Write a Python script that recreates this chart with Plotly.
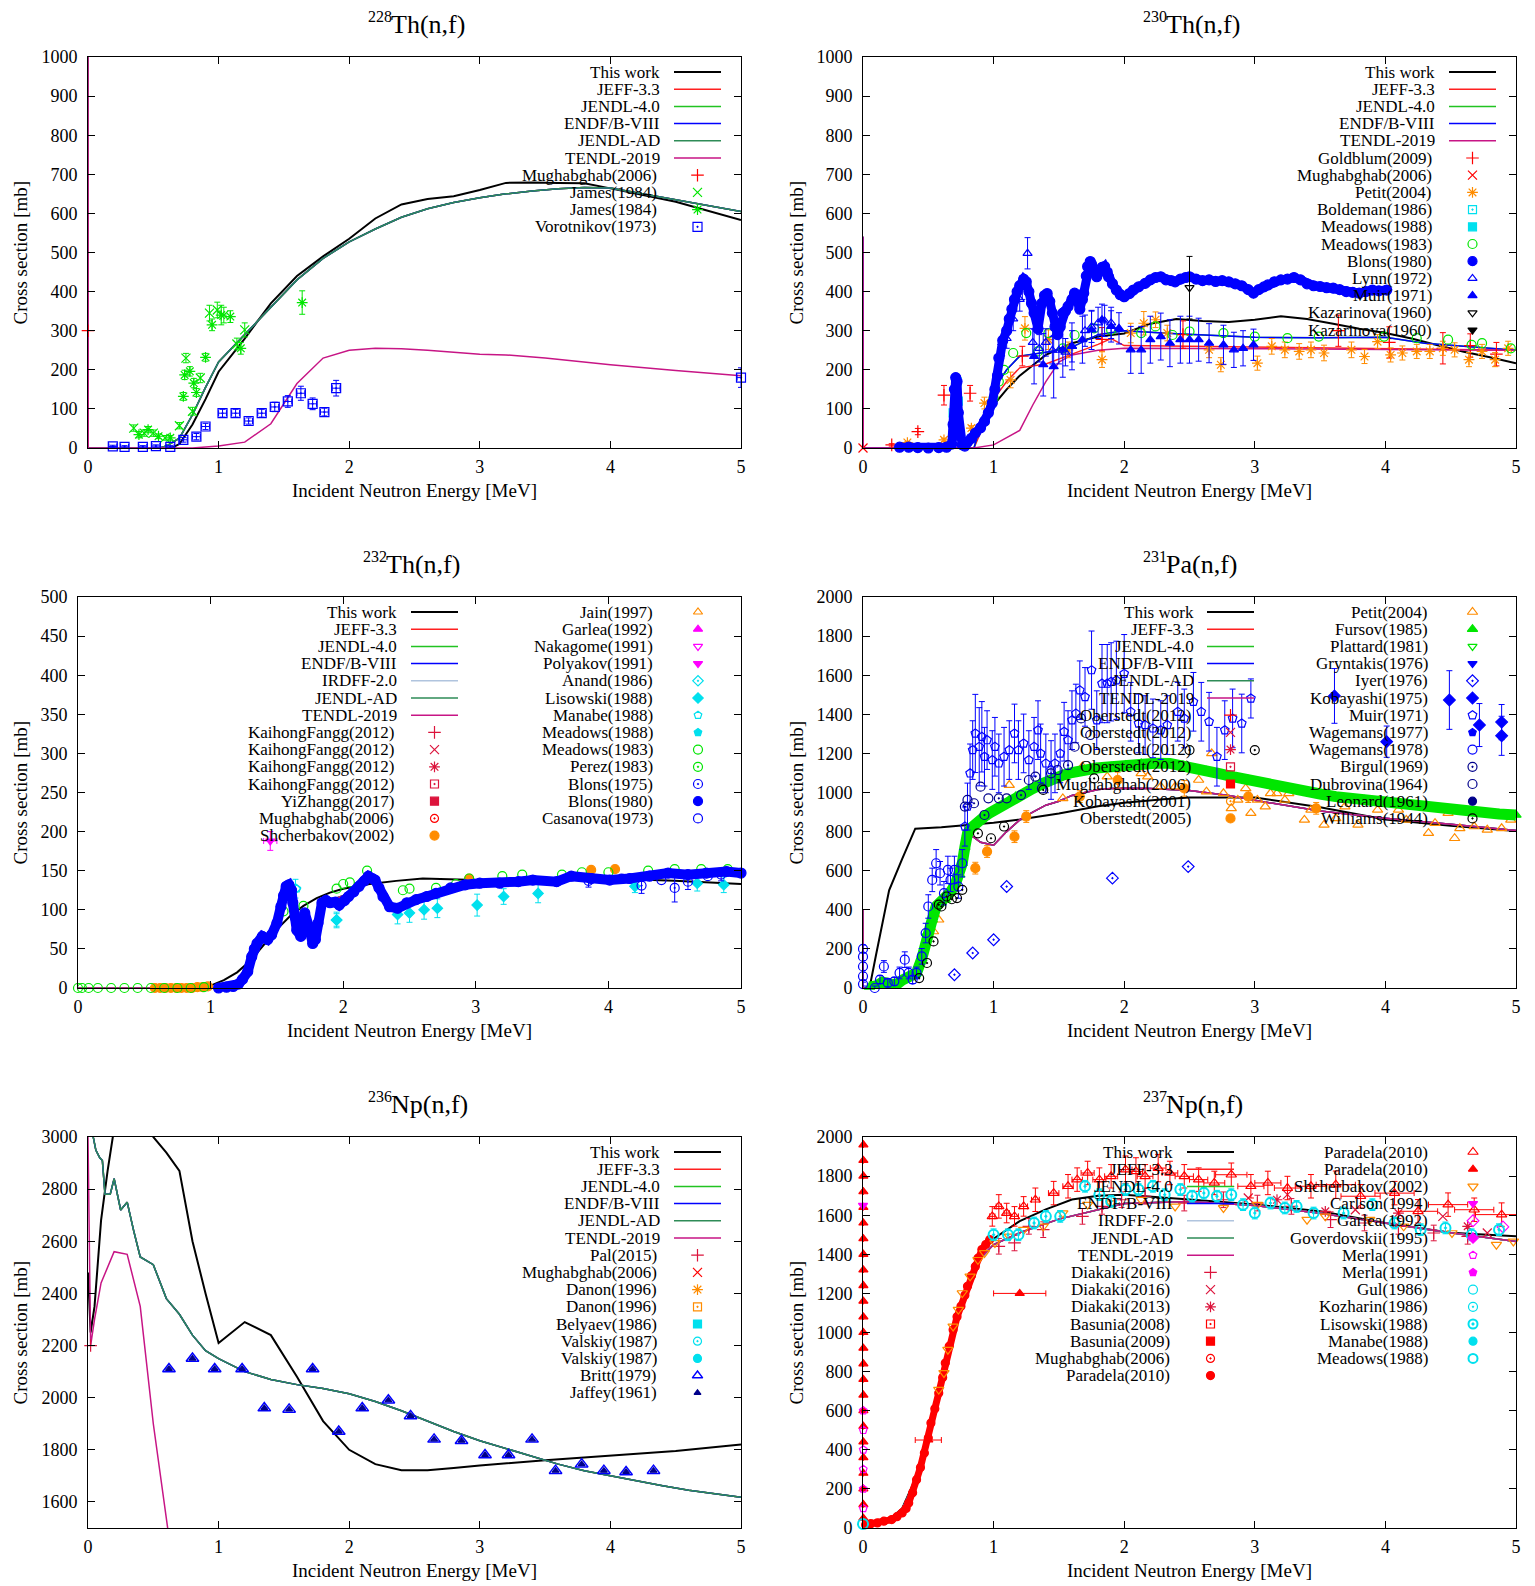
import plotly.graph_objects as go
from plotly.subplots import make_subplots

W, H = 1535, 1586
FONT = "Liberation Serif"

# ======================= DATA =======================
# ---- 228Th(n,f) ----
th228_this_e = [0.60, 0.65, 0.70, 0.80, 0.90, 1.00, 1.20, 1.40, 1.60, 1.80, 2.00, 2.20, 2.40, 2.60, 2.80, 3.00, 3.20, 3.40, 3.60, 3.80, 4.00, 4.50, 5.00]
th228_this_y = [0, 2, 10, 60, 125, 195, 280, 370, 440, 490, 535, 587, 623, 637, 644, 660, 678, 679, 678, 677, 664, 630, 583]
th228_eval_e = [0.0, 0.002, 0.55, 0.60, 0.70, 0.80, 0.90, 1.00, 1.20, 1.40, 1.60, 1.80, 2.00, 2.20, 2.40, 2.60, 2.80, 3.00, 3.20, 3.40, 3.60, 3.80, 4.00, 4.50, 5.00]
th228_eval_y = [1500, 0, 0, 5, 25, 85, 155, 220, 290, 360, 430, 485, 527, 560, 590, 612, 628, 640, 650, 657, 663, 666, 665, 635, 605]
th228_tendl_e = [0.0, 0.002, 0.80, 1.00, 1.20, 1.40, 1.60, 1.80, 2.00, 2.20, 2.40, 2.60, 3.00, 3.20, 3.50, 4.00, 4.50, 5.00]
th228_tendl_y = [1500, 0, 0, 5, 15, 62, 165, 230, 250, 255, 254, 250, 240, 238, 230, 213, 198, 185]
th228_mugh_e = [0.0]
th228_mugh_y = [300]
th228_james1_e = [0.35, 0.43, 0.50, 0.59, 0.70, 0.75, 0.80, 0.86, 0.93, 0.99, 1.04, 1.14, 1.20]
th228_james1_y = [51, 38, 38, 26, 57, 230, 94, 179, 345, 353, 340, 266, 302]
th228_james1_dy = [8, 8, 8, 6, 8, 12, 10, 12, 20, 20, 20, 15, 18]
th228_james2_e = [0.39, 0.46, 0.54, 0.63, 0.73, 0.74, 0.78, 0.81, 0.83, 0.90, 0.95, 1.02, 1.09, 1.17, 1.64]
th228_james2_y = [34, 47, 30, 26, 132, 187, 196, 166, 142, 232, 315, 340, 336, 255, 372]
th228_james2_dy = [8, 8, 6, 6, 10, 12, 12, 12, 10, 10, 15, 25, 15, 15, 30]
th228_voro_e = [0.19, 0.28, 0.42, 0.52, 0.63, 0.73, 0.83, 0.90, 1.03, 1.13, 1.23, 1.33, 1.43, 1.53, 1.63, 1.72, 1.81, 1.90, 5.00]
th228_voro_y = [4, 3, 3, 5, 3, 21, 29, 55, 89, 89, 69, 89, 105, 119, 140, 113, 92, 153, 180]
th228_voro_dy = [3, 3, 3, 3, 3, 6, 8, 8, 10, 10, 8, 10, 12, 15, 18, 15, 10, 20, 25]
th228_voro_dx = [0.03, 0.03, 0.03, 0.03, 0.03, 0.03, 0.03, 0.03, 0.03, 0.03, 0.03, 0.03, 0.03, 0.03, 0.03, 0.03, 0.03, 0.03, 0.03]

# ---- 230Th(n,f) ----
th230_this_e = [0.80, 0.90, 1.00, 1.10, 1.20, 1.40, 1.60, 1.80, 2.00, 2.20, 2.40, 2.60, 2.80, 3.00, 3.20, 3.40, 3.60, 3.80, 4.00, 4.20, 4.40, 4.60, 4.80, 5.00]
th230_this_y = [0, 40, 110, 150, 185, 238, 268, 285, 293, 318, 330, 325, 322, 328, 337, 330, 318, 305, 294, 280, 263, 246, 232, 217]
th230_jeff_e = [0.0, 0.002, 0.85, 0.90, 1.00, 1.10, 1.20, 1.30, 1.40, 1.60, 1.80, 1.90, 2.00, 2.50, 3.00, 3.50, 4.00, 4.50, 5.00]
th230_jeff_y = [540, 0, 0, 40, 125, 170, 205, 210, 215, 240, 265, 280, 262, 260, 258, 257, 255, 252, 250]
th230_endf_e = [0.0, 0.002, 0.85, 0.90, 1.00, 1.10, 1.20, 1.30, 1.40, 1.60, 1.80, 2.00, 2.40, 3.00, 3.50, 4.00, 4.30, 4.60, 5.00]
th230_endf_y = [540, 0, 0, 60, 150, 200, 235, 240, 245, 258, 290, 300, 292, 283, 282, 283, 268, 260, 250]
th230_tendl_e = [0.0, 0.002, 0.85, 1.00, 1.20, 1.30, 1.40, 1.50, 1.60, 1.80, 2.00, 2.50, 3.00, 4.00, 5.00]
th230_tendl_y = [540, 0, 0, 8, 45, 110, 170, 220, 238, 250, 255, 255, 254, 252, 250]
th230_gold_e = [0.22, 0.42, 0.62, 0.82, 1.22, 1.83, 2.45, 3.64, 4.03, 4.44, 4.65, 4.85]
th230_gold_y = [8, 42, 135, 140, 235, 278, 290, 300, 270, 255, 262, 240]
th230_gold_dy = [3, 8, 25, 20, 25, 30, 35, 40, 40, 40, 30, 30]
th230_mugh_e = [0.0]
th230_mugh_y = [0]
th230_petit_e = [0.34, 0.62, 0.83, 0.93, 1.13, 1.24, 1.42, 1.57, 1.83, 2.05, 2.15, 2.24, 2.33, 2.65, 2.74, 3.02, 3.13, 3.23, 3.34, 3.43, 3.53, 3.74, 3.84, 3.94, 4.04, 4.13, 4.24, 4.34, 4.44, 4.53, 4.64, 4.74, 4.84, 4.94]
th230_petit_y = [14, 21, 51, 115, 174, 306, 277, 251, 226, 294, 319, 328, 294, 251, 213, 217, 260, 251, 247, 251, 243, 251, 234, 272, 238, 243, 247, 247, 255, 251, 226, 247, 226, 255]
th230_petit_dy = [3, 4, 6, 15, 20, 30, 25, 20, 20, 25, 30, 20, 20, 20, 18, 18, 20, 20, 20, 20, 20, 20, 18, 18, 18, 18, 18, 18, 18, 18, 18, 18, 18, 18]
th230_bold_e = [0.69, 0.71, 0.73]
th230_bold_y = [90, 160, 120]
th230_mead88_e = [0.72]
th230_mead88_y = [170]
th230_mead83_e = [0.93, 1.00, 1.04, 1.08, 1.15, 1.25, 1.34, 1.42, 1.53, 1.62, 1.77, 1.90, 2.13, 2.24, 2.37, 2.50, 2.76, 3.00, 3.25, 3.49, 3.99, 4.24, 4.48, 4.66, 4.74, 4.96]
th230_mead83_y = [68, 128, 170, 200, 243, 294, 247, 294, 255, 289, 306, 302, 294, 311, 289, 298, 294, 285, 281, 285, 285, 281, 277, 264, 268, 255]
th230_blons_e = [0.28, 0.35, 0.42, 0.50, 0.58, 0.64, 0.68, 0.69, 0.70, 0.71,
                 0.72, 0.73, 0.74, 0.76, 0.78, 0.80, 0.83, 0.86, 0.90, 0.93,
                 0.96, 0.99, 1.01, 1.03, 1.04, 1.07, 1.10, 1.12, 1.14, 1.16,
                 1.18, 1.20, 1.23, 1.25, 1.27, 1.29, 1.31, 1.34, 1.37, 1.39,
                 1.41, 1.43, 1.45, 1.47, 1.49, 1.51, 1.53, 1.55, 1.57, 1.60,
                 1.62, 1.64, 1.66, 1.68, 1.69, 1.71, 1.72, 1.74, 1.75, 1.77,
                 1.79, 1.81, 1.83, 1.85, 1.87, 1.88, 1.91, 1.94, 1.97, 2.00,
                 2.04, 2.07, 2.11, 2.16, 2.20, 2.24, 2.28, 2.32, 2.36, 2.39,
                 2.43, 2.47, 2.50, 2.55, 2.60, 2.65, 2.70, 2.75, 2.80, 2.85,
                 2.90, 2.95, 2.99, 3.03, 3.07, 3.10, 3.15, 3.20, 3.25, 3.30,
                 3.35, 3.40, 3.45, 3.50, 3.55, 3.60, 3.65, 3.70, 3.75, 3.80,
                 3.85, 3.90, 3.95, 4.01]
th230_blons_y = [2, 2, 1, 0, 1, 2, 10, 60, 150, 180,
                 170, 90, 30, 8, 5, 15, 25, 38, 52, 68,
                 90, 115, 150, 185, 230, 275, 300, 330, 355, 380,
                 400, 415, 432, 425, 400, 370, 345, 305, 370, 390,
                 395, 375, 345, 310, 290, 310, 345, 350, 362, 380,
                 396, 375, 355, 380, 396, 440, 464, 477, 470, 450,
                 438, 450, 462, 464, 450, 438, 420, 404, 392, 387,
                 395, 404, 412, 421, 430, 436, 438, 430, 428, 425,
                 432, 436, 438, 432, 428, 430, 426, 428, 425, 420,
                 415, 405, 396, 405, 412, 417, 425, 430, 432, 436,
                 430, 420, 415, 413, 410, 409, 405, 400, 398, 396,
                 400, 404, 402, 404]
th230_lynn_e = [1.05, 1.10, 1.15, 1.20, 1.22, 1.26, 1.30, 1.35, 1.40, 1.45, 1.50, 1.55, 1.60, 1.70, 1.75, 1.80, 1.85, 1.90]
th230_lynn_y = [240, 280, 330, 380, 410, 498, 270, 255, 270, 250, 250, 245, 260, 300, 310, 320, 325, 320]
th230_lynn_dy = [25, 25, 30, 30, 30, 40, 35, 35, 35, 35, 35, 35, 40, 40, 40, 40, 40, 40]
th230_muir_e = [1.31, 1.38, 1.46, 1.53, 1.60, 1.68, 1.75, 1.83, 1.90, 1.96, 2.05, 2.13, 2.20, 2.28, 2.35, 2.43, 2.50, 2.57, 2.65, 2.76, 2.84, 2.91, 2.99]
th230_muir_y = [234, 213, 208, 251, 260, 277, 302, 328, 311, 306, 251, 251, 277, 285, 268, 277, 277, 277, 268, 264, 251, 255, 264]
th230_muir_dy = [70, 80, 80, 70, 60, 60, 50, 40, 40, 40, 60, 60, 60, 60, 60, 60, 60, 55, 50, 50, 45, 45, 40]
th230_kaz_e = [2.50]
th230_kaz_y = [410]
th230_kaz_dy = [80]

# ---- 232Th(n,f) ----
th232_this_e = [0.0, 0.90, 1.00, 1.10, 1.20, 1.30, 1.40, 1.50, 1.60, 1.70, 1.80, 1.90, 2.00, 2.20, 2.40, 2.60, 2.80, 3.00, 3.50, 4.00, 4.50, 5.00]
th232_this_y = [0, 0, 3, 10, 20, 35, 55, 75, 92, 105, 115, 122, 127, 133, 137, 140, 139, 138, 139, 140, 137, 133]
th232_eval_e = [0.0, 1.05, 1.15, 1.25, 1.30, 1.35, 1.40, 1.45, 1.50, 1.55, 1.60, 1.65, 1.70, 1.75, 1.80, 1.90, 2.00, 2.10, 2.20, 2.30, 2.40, 2.50, 2.70, 3.00, 3.50, 4.00, 4.50, 5.00]
th232_eval_y = [0, 0, 3, 15, 35, 55, 63, 62, 80, 110, 128, 95, 90, 65, 90, 112, 118, 130, 143, 115, 105, 112, 122, 133, 138, 143, 147, 150]
th232_blons_e = [1.06, 1.12, 1.17, 1.21, 1.24, 1.28, 1.31, 1.33, 1.35, 1.39,
                 1.43, 1.46, 1.50, 1.53, 1.55, 1.57, 1.59, 1.61, 1.62, 1.64,
                 1.65, 1.68, 1.71, 1.74, 1.77, 1.79, 1.81, 1.84, 1.87, 1.90,
                 1.94, 1.97, 2.01, 2.04, 2.08, 2.12, 2.16, 2.19, 2.22, 2.24,
                 2.27, 2.30, 2.35, 2.41, 2.48, 2.55, 2.63, 2.70, 2.81, 2.92,
                 3.03, 3.18, 3.32, 3.43, 3.61, 3.72, 3.87, 4.01, 4.16, 4.31,
                 4.45, 4.60, 4.74, 4.89, 5.00]
th232_blons_y = [0, 1, 2, 5, 11, 21, 40, 50, 57, 66,
                 62, 68, 83, 104, 118, 130, 132, 125, 109, 90,
                 74, 66, 96, 79, 57, 62, 83, 109, 112, 109,
                 110, 106, 112, 117, 123, 130, 137, 143, 140, 138,
                 128, 117, 104, 102, 109, 113, 117, 121, 128, 132,
                 134, 134, 136, 138, 136, 143, 140, 138, 140, 143,
                 147, 145, 147, 149, 147]
th232_mead83_e = [0.00, 0.03, 0.08, 0.15, 0.25, 0.35, 0.45, 0.55, 0.65, 0.75, 0.85, 0.95, 1.55, 1.70, 1.95, 2.00, 2.05, 2.18, 2.45, 2.50, 2.70, 2.85, 2.95, 3.20, 3.35, 3.65, 3.80, 4.00, 4.30, 4.50, 4.70, 4.90]
th232_mead83_y = [0, 0, 0, 0, 0, 0, 0, 0, 0, 0, 0, 1, 98, 105, 127, 133, 135, 150, 125, 127, 128, 133, 140, 143, 145, 145, 148, 148, 150, 152, 152, 152]
th232_shch_e = [0.58, 0.62, 0.66, 0.70, 0.74, 0.78, 0.82, 0.86, 0.90, 0.94, 0.98, 2.95, 3.87, 4.05]
th232_shch_y = [0, 0, 0, 0, 0, 0, 0, 0, 1, 1, 2, 140, 151, 152]
th232_poly_e = [1.45]
th232_poly_y = [188]
th232_poly_dy = [12]
th232_poly_dx = [0.05]
th232_lis_e = [1.95, 2.41, 2.50, 2.61, 2.71, 3.01, 3.21, 3.47, 4.20, 4.67, 4.87]
th232_lis_y = [87, 94, 96, 100, 102, 106, 117, 121, 130, 134, 132]
th232_lis_dy = [10, 12, 12, 12, 12, 14, 10, 12, 8, 10, 10]
th232_anand_e = [1.64, 1.95]
th232_anand_y = [127, 87]
th232_anand_dy = [12, 8]
th232_manabe_e = [1.65]
th232_manabe_y = [127]
th232_blons75_e = [3.85, 4.25, 4.50, 4.60, 4.85]
th232_blons75_y = [137, 131, 128, 136, 145]
th232_blons75_dy = [8, 10, 18, 10, 8]
th232_casa_e = [4.10, 4.40, 4.75]
th232_casa_y = [140, 138, 143]

# ---- 231Pa(n,f) ----
pa231_this_e = [0.0, 0.05, 0.10, 0.20, 0.30, 0.40, 0.60, 0.75, 0.90, 1.00, 1.20, 1.50, 1.80, 2.00, 2.30, 2.50, 3.00, 3.50, 4.00, 4.50, 5.00]
pa231_this_y = [0, 0, 170, 500, 660, 815, 822, 830, 838, 845, 862, 893, 930, 948, 965, 975, 975, 925, 862, 830, 803]
pa231_endf_e = [0.0, 0.002, 0.10, 0.20, 0.30, 0.40, 0.50, 0.60, 0.70, 0.75, 0.80, 0.85, 0.90, 1.00, 1.10, 1.20, 1.30, 1.40, 1.50, 1.60, 1.70, 1.80, 1.90, 2.00, 2.20, 2.50, 2.80, 3.00, 3.50, 4.00, 4.50, 5.00]
pa231_endf_y = [400, 0, 5, 20, 30, 70, 290, 470, 550, 640, 790, 770, 745, 730, 800, 860, 900, 935, 955, 985, 1000, 1015, 1020, 1022, 1020, 1010, 985, 960, 905, 868, 838, 806]
pa231_jendl4_e = [0.0, 0.002, 0.30, 0.40, 0.50, 0.60, 0.70, 0.80, 0.90, 1.00, 1.20, 1.50, 2.00, 2.30, 2.60, 3.00, 3.50, 4.00, 4.50, 5.00]
pa231_jendl4_y = [400, 0, 30, 70, 290, 460, 540, 790, 870, 910, 995, 1085, 1145, 1150, 1120, 1060, 1000, 950, 910, 885]
pa231_fursov_e = [0.05, 0.10, 0.15, 0.20, 0.25, 0.30, 0.35, 0.41, 0.45, 0.49,
                  0.53, 0.56, 0.60, 0.63, 0.67, 0.71, 0.74, 0.76, 0.78, 0.80,
                  0.83, 0.86, 0.90, 0.93, 0.97, 1.01, 1.06, 1.12, 1.17, 1.23,
                  1.30, 1.38, 1.45, 1.53, 1.60, 1.68, 1.79, 1.90, 2.01, 2.13,
                  2.24, 2.35, 2.45, 2.54, 2.63, 2.72, 2.84, 2.95, 3.06, 3.17,
                  3.28, 3.40, 3.51, 3.62, 3.73, 3.84, 3.96, 4.07, 4.18, 4.29,
                  4.40, 4.51, 4.62, 4.74, 4.87, 5.00]
pa231_fursov_y = [5, 10, 30, 20, 15, 40, 60, 77, 150, 281,
                  350, 417, 440, 451, 490, 536, 580, 638, 720, 791,
                  820, 843, 860, 877, 895, 911, 935, 962, 980, 996,
                  1020, 1047, 1070, 1089, 1102, 1115, 1125, 1132, 1140, 1149,
                  1150, 1149, 1138, 1123, 1110, 1098, 1080, 1064, 1047, 1030,
                  1017, 1004, 991, 979, 970, 962, 953, 945, 936, 928,
                  920, 911, 902, 894, 890, 885]
pa231_petit_e = [0.54, 0.58, 1.12, 1.53, 1.68, 1.87, 2.13, 2.18, 2.28, 2.39,
                 2.57, 2.63, 2.67, 2.76, 2.82, 2.87, 2.93, 2.97, 3.02, 3.08,
                 3.12, 3.17, 3.23, 3.26, 3.38, 3.43, 3.53, 3.62, 3.69, 3.79,
                 3.94, 4.05, 4.10, 4.16, 4.33, 4.38, 4.48, 4.53, 4.57, 4.68,
                 4.78, 4.89, 4.96]
pa231_petit_y = [289, 349, 1038, 970, 1132, 1081, 1098, 1081, 1030, 1030,
                 1064, 1004, 1200, 996, 919, 962, 1021, 894, 962, 928,
                 996, 996, 962, 996, 860, 911, 834, 868, 928, 834,
                 911, 945, 911, 860, 792, 843, 894, 766, 817, 826,
                 809, 817, 860]
pa231_iyer_e = [0.70, 0.84, 1.00, 1.10, 1.91, 2.49]
pa231_iyer_y = [68, 179, 247, 519, 562, 621]
pa231_koba75_e = [3.61, 4.01, 4.49, 4.72, 4.89, 4.89]
pa231_koba75_y = [1494, 1260, 1473, 1345, 1360, 1290]
pa231_koba75_dy = [140, 80, 150, 110, 90, 100]
pa231_wag78_e = [0.0, 0.0, 0.0, 0.0, 0.0, 0.09, 0.13, 0.16, 0.19, 0.24, 0.28, 0.32, 0.35, 0.38, 0.41, 0.45, 0.48, 0.50, 0.53, 0.56, 0.59, 0.62, 0.65, 0.67, 0.70, 0.73, 0.76]
pa231_wag78_y = [20, 60, 110, 160, 200, 0, 43, 110, 26, 34, 77, 145, 77, 43, 77, 162, 281, 417, 553, 638, 587, 485, 604, 553, 604, 519, 638]
pa231_wag78_dy = [10, 20, 20, 20, 20, 10, 20, 30, 20, 20, 30, 40, 30, 20, 30, 40, 50, 60, 60, 70, 60, 60, 70, 60, 70, 60, 70]
pa231_muir_e = [0.78, 0.80, 0.82, 0.84, 0.86, 0.89, 0.91, 0.93, 0.95, 0.99,
                1.01, 1.04, 1.08, 1.12, 1.16, 1.19, 1.23, 1.27, 1.31, 1.34,
                1.36, 1.40, 1.44, 1.47, 1.51, 1.54, 1.57, 1.60, 1.63, 1.66,
                1.70, 1.75, 1.79, 1.83, 1.87, 1.90, 1.94, 2.00, 2.05, 2.11,
                2.16, 2.22, 2.28, 2.33, 2.41, 2.46, 2.53, 2.59, 2.65, 2.71,
                2.77, 2.83, 2.90, 2.97]
pa231_muir_y = [826, 928, 1098, 1217, 1302, 1234, 1285, 1183, 1268, 1166,
                1234, 1149, 1183, 1217, 1302, 1217, 1251, 1166, 1234, 1319,
                1200, 1149, 1115, 1149, 1200, 1311, 1268, 1370, 1404, 1523,
                1489, 1626, 1370, 1557, 1557, 1566, 1574, 1608, 1413, 1353,
                1345, 1328, 1319, 1345, 1413, 1379, 1464, 1413, 1362, 1183,
                1319, 1379, 1353, 1481]
pa231_muir_dy = [100, 120, 150, 150, 200, 200, 180, 150, 150, 150,
                 150, 150, 150, 150, 150, 150, 150, 150, 150, 150,
                 150, 150, 150, 150, 150, 150, 150, 150, 150, 150,
                 150, 200, 150, 200, 200, 200, 200, 200, 150, 150,
                 150, 150, 150, 150, 150, 150, 150, 150, 150, 150,
                 150, 150, 150, 100]
pa231_birgul_e = [0.78, 0.85, 0.93, 1.04, 1.21, 1.32, 1.44, 1.57, 1.67]
pa231_birgul_y = [928, 945, 885, 970, 987, 1081, 1098, 1140, 1379]
pa231_dubr_e = [0.80, 0.90, 0.96, 1.10, 1.27, 1.37, 1.49, 1.62, 1.74]
pa231_dubr_y = [962, 1030, 970, 970, 1064, 1021, 1115, 1234, 1294]
pa231_will_e = [0.43, 0.49, 0.54, 0.58, 0.60, 0.64, 0.68, 0.72, 0.76, 0.88, 0.98, 1.08, 1.38, 1.77, 2.50, 3.00]
pa231_will_y = [51, 128, 238, 426, 417, 468, 454, 460, 502, 791, 766, 826, 1013, 1072, 1217, 1217]
pa231_ober05_e = [0.86, 0.95, 1.16, 1.25, 1.66, 1.95, 2.46, 2.95, 3.47]
pa231_ober05_y = [613, 698, 774, 877, 979, 1064, 1021, 979, 919]
pa231_ober05_dy = [30, 30, 30, 30, 30, 40, 40, 30, 30]

# ---- 236Np(n,f) ----
np236_this_e = [0.0, 0.02, 0.05, 0.10, 0.15, 0.19, 0.30, 0.45, 0.50, 0.60, 0.70, 0.80, 0.90, 1.00, 1.20, 1.40, 1.60, 1.80, 2.00, 2.20, 2.40, 2.60, 2.80, 3.00, 3.50, 4.00, 4.50, 5.00]
np236_this_y = [2480, 2250, 2350, 2680, 2870, 3000, 3150, 3080, 3000, 2940, 2870, 2600, 2400, 2210, 2290, 2240, 2080, 1910, 1800, 1745, 1722, 1722, 1730, 1740, 1760, 1777, 1795, 1820]
np236_eval_e = [0.0, 0.04, 0.06, 0.09, 0.11, 0.13, 0.17, 0.20, 0.25, 0.30, 0.35, 0.40, 0.50, 0.60, 0.70, 0.80, 0.90, 1.00, 1.20, 1.40, 1.60, 1.80, 2.00, 2.20, 2.40, 2.60, 2.80, 3.00, 3.20, 3.40, 3.60, 3.80, 4.00, 4.20, 4.40, 4.60, 4.80, 5.00]
np236_eval_y = [3200, 3000, 2950, 2920, 2910, 2780, 2780, 2840, 2720, 2750, 2640, 2540, 2510, 2380, 2320, 2240, 2180, 2150, 2100, 2070, 2050, 2035, 2015, 1985, 1950, 1910, 1870, 1835, 1805, 1775, 1745, 1720, 1700, 1680, 1662, 1645, 1632, 1618]
np236_tendl_e = [0.0, 0.02, 0.05, 0.10, 0.20, 0.30, 0.40, 0.50, 0.61]
np236_tendl_y = [3000, 2200, 2300, 2440, 2560, 2550, 2350, 1900, 1500]
np236_pal_e = [0.02]
np236_pal_y = [2200]
np236_britt_e = [0.62, 0.80, 0.97, 1.18, 1.35, 1.54, 1.72, 1.92, 2.10, 2.30, 2.47, 2.65, 2.86, 3.04, 3.22, 3.40, 3.58, 3.78, 3.95, 4.12, 4.33]
np236_britt_y = [2110, 2150, 2110, 2110, 1960, 1955, 2110, 1870, 1960, 1990, 1930, 1840, 1835, 1780, 1780, 1840, 1720, 1745, 1720, 1715, 1720]

# ---- 237Np(n,f) ----
np237_this_e = [0.002, 0.10, 0.20, 0.30, 0.40, 0.50, 0.60, 0.70, 0.80, 0.90, 1.00, 1.20, 1.40, 1.60, 1.80, 2.00, 2.50, 3.00, 3.50, 4.00, 4.50, 5.00]
np237_this_y = [20, 25, 45, 100, 250, 480, 760, 1030, 1250, 1400, 1480, 1570, 1630, 1680, 1700, 1705, 1680, 1655, 1620, 1560, 1510, 1492]
np237_eval_e = [0.002, 0.10, 0.20, 0.30, 0.40, 0.50, 0.60, 0.70, 0.80, 0.90, 1.00, 1.20, 1.50, 2.00, 2.50, 3.00, 3.50, 4.00, 4.50, 5.00]
np237_eval_y = [20, 25, 45, 95, 240, 470, 740, 1010, 1230, 1380, 1450, 1510, 1580, 1660, 1670, 1650, 1610, 1560, 1510, 1465]
np237_diak16a_e = [1.04, 1.16, 1.27, 1.38, 1.68, 1.83, 1.98, 2.16, 2.46, 2.76, 3.02, 3.28, 3.58, 3.84, 4.10, 4.37, 4.63]
np237_diak16a_y = [1441, 1458, 1543, 1526, 1594, 1645, 1679, 1697, 1662, 1679, 1662, 1645, 1577, 1560, 1543, 1509, 1492]
np237_diak16a_dy = [40, 40, 40, 40, 40, 40, 40, 40, 40, 40, 40, 40, 40, 40, 40, 40, 40]
np237_diak16b_e = [2.95, 3.25, 3.77, 4.44, 4.78]
np237_diak16b_y = [1688, 1705, 1628, 1594, 1509]
np237_diak13_e = [3.17, 3.54, 4.10, 4.63]
np237_diak13_y = [1679, 1620, 1611, 1543]
np237_parc_e = [0.02, 0.06, 0.11, 0.16, 0.22, 0.26, 0.30, 0.33, 0.35, 0.38, 0.41, 0.44, 0.47, 0.50, 0.52, 0.55, 0.58, 0.61, 0.63, 0.66, 0.69, 0.72, 0.75, 0.78, 0.80, 0.83, 0.86, 0.88, 0.91, 0.94, 0.97]
np237_parc_y = [17, 22, 26, 35, 43, 58, 77, 100, 128, 180, 247, 310, 384, 460, 537, 610, 690, 770, 844, 930, 1014, 1080, 1134, 1190, 1236, 1290, 1338, 1380, 1424, 1450, 1475]
np237_parto_e = [0.99, 1.04, 1.10, 1.16, 1.23, 1.32, 1.46, 1.57, 1.64, 1.72, 1.81, 1.90, 2.01, 2.09, 2.16, 2.26, 2.35, 2.46, 2.57, 2.69, 2.82, 2.97, 3.10, 3.25, 3.43, 3.62, 3.81, 4.07, 4.25, 4.48, 4.68, 4.89]
np237_parto_y = [1594, 1645, 1611, 1594, 1645, 1679, 1713, 1748, 1782, 1816, 1782, 1799, 1833, 1824, 1799, 1841, 1816, 1799, 1782, 1765, 1807, 1748, 1765, 1739, 1748, 1756, 1697, 1713, 1620, 1654, 1628, 1603]
np237_parto_dy = [50, 60, 50, 50, 50, 60, 60, 60, 60, 60, 60, 60, 70, 70, 60, 70, 60, 60, 60, 60, 60, 60, 60, 60, 60, 70, 60, 60, 60, 60, 60, 60]
np237_parto_dx = [0.02, 0.02, 0.02, 0.03, 0.03, 0.03, 0.04, 0.04, 0.04, 0.05, 0.05, 0.05, 0.05, 0.05, 0.06, 0.06, 0.06, 0.07, 0.07, 0.08, 0.12, 0.10, 0.10, 0.10, 0.12, 0.15, 0.15, 0.15, 0.15, 0.15, 0.15, 0.20]
np237_partf_e = [0.003, 0.003, 0.003, 0.003, 0.003, 0.003, 0.003, 0.003, 0.003, 0.003, 0.003, 0.003, 0.003, 0.003, 0.003, 0.003, 0.003, 0.003, 0.003, 0.003, 0.003, 0.003, 0.003, 0.003, 0.003, 0.50, 1.20]
np237_partf_y = [50, 120, 200, 280, 360, 440, 520, 600, 680, 760, 840, 920, 1000, 1080, 1160, 1240, 1320, 1400, 1480, 1560, 1640, 1720, 1800, 1880, 1960, 450, 1200]
np237_partf_dx = [0, 0, 0, 0, 0, 0, 0, 0, 0, 0, 0, 0, 0, 0, 0, 0, 0, 0, 0, 0, 0, 0, 0, 0, 0, 0.10, 0.20]
np237_shch_e = [0.58, 0.62, 0.65, 0.69, 0.73, 0.76, 0.82, 0.88, 0.93, 1.01, 1.12, 1.23, 1.38, 1.53, 1.72, 1.90, 2.13, 2.39, 2.76, 3.02, 3.40, 3.54, 3.88, 4.14, 4.51, 4.85, 4.98]
np237_shch_y = [708, 793, 912, 1031, 1117, 1202, 1287, 1372, 1407, 1458, 1492, 1526, 1543, 1611, 1654, 1662, 1679, 1645, 1637, 1654, 1577, 1594, 1577, 1543, 1509, 1449, 1466]
np237_carl_e = [0.0]
np237_carl_y = [1650]
np237_garlea_e = [4.90]
np237_garlea_y = [1540]
np237_merla_e = [0.002, 0.002, 0.002, 0.002, 0.002, 0.002]
np237_merla_y = [100, 200, 300, 400, 500, 600]
np237_mead88_e = [0.0]
np237_mead88_y = [20]
np237_lis_e = [1.00, 1.11, 1.19, 1.31, 1.40, 1.51, 1.70, 1.81, 1.90, 2.01, 2.11, 2.22, 2.31, 2.43, 2.52, 2.61, 2.71, 2.82, 2.91, 3.00, 3.12, 3.23, 3.32, 3.45, 3.68, 3.90, 4.07, 4.27, 4.46, 4.66, 4.87]
np237_lis_y = [1500, 1500, 1500, 1560, 1594, 1594, 1748, 1705, 1671, 1731, 1731, 1748, 1705, 1731, 1697, 1713, 1697, 1705, 1654, 1611, 1662, 1637, 1645, 1611, 1611, 1654, 1560, 1526, 1535, 1500, 1526]
np237_lis_dy = [30, 30, 30, 30, 30, 30, 30, 30, 30, 30, 30, 30, 30, 30, 30, 30, 30, 30, 30, 30, 30, 30, 30, 30, 30, 30, 30, 30, 30, 30, 30]

# ======================= STYLE / TABLES =======================
C_THIS, C_JEFF, C_J4, C_ENDF = "#000000", "#ff2020", "#22c322", "#0000ff"
C_IRDFF, C_JAD, C_TENDL = "#b0c4de", "#2e8b57", "#c71585"
RED, GREEN, BLUE, ORANGE = "#ff0000", "#00e600", "#0000ff", "#ff8c00"
CYAN, MAGENTA, NAVY, CRIMSON, BLACK = "#00e0ee", "#ff00ff", "#00008b", "#dc143c", "#000000"

SERIES = []


def chk(label, *arrs):
    n = {len(a) for a in arrs if a is not None}
    if len(n) > 1:
        raise ValueError("length mismatch in " + label + ": " + str([len(a) for a in arrs if a is not None]))


def line(panel, col, label, x, y, color, width=1.5):
    chk(label, x, y)
    SERIES.append(dict(kind="line", panel=panel, col=col, label=label, x=x, y=y, color=color, width=width))


def pts(panel, col, label, x, y, color, symbol, ey=None, ex=None, size=8, band=0, lw=1.2):
    chk(label, x, y, ey, ex)
    SERIES.append(dict(kind="pts", panel=panel, col=col, label=label, x=x, y=y, color=color,
                       symbol=symbol, ey=ey, ex=ex, size=size, band=band, lw=lw))


# panel 1
line(1, 0, "This work", th228_this_e, th228_this_y, C_THIS, 2)
line(1, 0, "JEFF-3.3", th228_eval_e, th228_eval_y, C_JEFF)
line(1, 0, "JENDL-4.0", th228_eval_e, th228_eval_y, C_J4)
line(1, 0, "ENDF/B-VIII", th228_eval_e, th228_eval_y, C_ENDF)
line(1, 0, "JENDL-AD", th228_eval_e, th228_eval_y, C_JAD)
line(1, 0, "TENDL-2019", th228_tendl_e, th228_tendl_y, C_TENDL)
pts(1, 0, "Mughabghab(2006)", th228_mugh_e, th228_mugh_y, RED, "cross-thin-open", size=9)
pts(1, 0, "James(1984)", th228_james1_e, th228_james1_y, GREEN, "x-thin-open", ey=th228_james1_dy, size=9)
pts(1, 0, "James(1984)", th228_james2_e, th228_james2_y, GREEN, "asterisk-open", ey=th228_james2_dy, size=9)
pts(1, 0, "Vorotnikov(1973)", th228_voro_e, th228_voro_y, BLUE, "square-open-dot", ey=th228_voro_dy, ex=th228_voro_dx, size=9)

# panel 2
line(2, 0, "This work", th230_this_e, th230_this_y, C_THIS, 2)
line(2, 0, "JEFF-3.3", th230_jeff_e, th230_jeff_y, C_JEFF)
line(2, 0, "JENDL-4.0", th230_endf_e, th230_endf_y, C_J4)
line(2, 0, "ENDF/B-VIII", th230_endf_e, th230_endf_y, C_ENDF)
line(2, 0, "TENDL-2019", th230_tendl_e, th230_tendl_y, C_TENDL)
pts(2, 0, "Goldblum(2009)", th230_gold_e, th230_gold_y, RED, "cross-thin-open", ey=th230_gold_dy, size=9)
pts(2, 0, "Mughabghab(2006)", th230_mugh_e, th230_mugh_y, RED, "x-thin-open", size=9)
pts(2, 0, "Petit(2004)", th230_petit_e, th230_petit_y, ORANGE, "asterisk-open", ey=th230_petit_dy, size=9)
pts(2, 0, "Boldeman(1986)", th230_bold_e, th230_bold_y, CYAN, "square-open-dot")
pts(2, 0, "Meadows(1988)", th230_mead88_e, th230_mead88_y, CYAN, "square")
pts(2, 0, "Meadows(1983)", th230_mead83_e, th230_mead83_y, GREEN, "circle-open", size=9)
pts(2, 0, "Blons(1980)", th230_blons_e, th230_blons_y, BLUE, "circle", size=10, band=9)
pts(2, 0, "Lynn(1972)", th230_lynn_e, th230_lynn_y, BLUE, "triangle-up-open", ey=th230_lynn_dy)
pts(2, 0, "Muir(1971)", th230_muir_e, th230_muir_y, BLUE, "triangle-up", ey=th230_muir_dy)
pts(2, 0, "Kazarinova(1960)", th230_kaz_e, th230_kaz_y, BLACK, "triangle-down-open", ey=th230_kaz_dy)
pts(2, 0, "Kazarinova(1960)", [], [], BLACK, "triangle-down")

# panel 3
line(3, 0, "This work", th232_this_e, th232_this_y, C_THIS, 2)
line(3, 0, "JEFF-3.3", th232_eval_e, th232_eval_y, C_JEFF)
line(3, 0, "JENDL-4.0", th232_eval_e, th232_eval_y, C_J4)
line(3, 0, "ENDF/B-VIII", th232_eval_e, th232_eval_y, C_ENDF)
line(3, 0, "IRDFF-2.0", th232_eval_e, th232_eval_y, C_IRDFF)
line(3, 0, "JENDL-AD", th232_eval_e, th232_eval_y, C_JAD)
line(3, 0, "TENDL-2019", th232_eval_e, th232_eval_y, C_TENDL)
pts(3, 0, "KaihongFangg(2012)", [], [], CRIMSON, "cross-thin-open", size=9)
pts(3, 0, "KaihongFangg(2012)", [], [], CRIMSON, "x-thin-open", size=9)
pts(3, 0, "KaihongFangg(2012)", [], [], CRIMSON, "asterisk-open", size=9)
pts(3, 0, "KaihongFangg(2012)", [], [], CRIMSON, "square-open-dot")
pts(3, 0, "YiZhangg(2017)", [], [], CRIMSON, "square")
pts(3, 0, "Mughabghab(2006)", [], [], RED, "circle-open-dot")
pts(3, 0, "Shcherbakov(2002)", th232_shch_e, th232_shch_y, ORANGE, "circle", size=9)
pts(3, 1, "Jain(1997)", [], [], ORANGE, "triangle-up-open")
pts(3, 1, "Garlea(1992)", [], [], MAGENTA, "triangle-up")
pts(3, 1, "Nakagome(1991)", [], [], MAGENTA, "triangle-down-open")
pts(3, 1, "Polyakov(1991)", th232_poly_e, th232_poly_y, MAGENTA, "triangle-down", ey=th232_poly_dy, ex=th232_poly_dx)
pts(3, 1, "Anand(1986)", th232_anand_e, th232_anand_y, CYAN, "diamond-open-dot", ey=th232_anand_dy)
pts(3, 1, "Lisowski(1988)", th232_lis_e, th232_lis_y, CYAN, "diamond", ey=th232_lis_dy)
pts(3, 1, "Manabe(1988)", th232_manabe_e, th232_manabe_y, CYAN, "pentagon-open")
pts(3, 1, "Meadows(1988)", [], [], CYAN, "pentagon")
pts(3, 1, "Meadows(1983)", th232_mead83_e, th232_mead83_y, GREEN, "circle-open", size=9)
pts(3, 1, "Perez(1983)", [], [], GREEN, "circle-open-dot", size=9)
pts(3, 1, "Blons(1975)", th232_blons75_e, th232_blons75_y, BLUE, "circle-open-dot", ey=th232_blons75_dy, size=9)
pts(3, 1, "Blons(1980)", th232_blons_e, th232_blons_y, BLUE, "circle", size=10, band=10)
pts(3, 1, "Casanova(1973)", th232_casa_e, th232_casa_y, BLUE, "circle-open", size=9)

# panel 4
line(4, 0, "This work", pa231_this_e, pa231_this_y, C_THIS, 2)
line(4, 0, "JEFF-3.3", pa231_endf_e, pa231_endf_y, C_JEFF)
line(4, 0, "JENDL-4.0", pa231_jendl4_e, pa231_jendl4_y, C_J4)
line(4, 0, "ENDF/B-VIII", pa231_endf_e, pa231_endf_y, C_ENDF)
line(4, 0, "JENDL-AD", pa231_endf_e, pa231_endf_y, C_JAD)
line(4, 0, "TENDL-2019", pa231_endf_e, pa231_endf_y, C_TENDL)
pts(4, 0, "Oberstedt(2012)", [], [], RED, "cross-thin-open", size=9)
pts(4, 0, "Oberstedt(2012)", [], [], CRIMSON, "x-thin-open", size=9)
pts(4, 0, "Oberstedt(2012)", [], [], CRIMSON, "asterisk-open", size=9)
pts(4, 0, "Oberstedt(2012)", [], [], CRIMSON, "square-open-dot")
pts(4, 0, "Mughabghab(2006)", [], [], RED, "square")
pts(4, 0, "Kobayashi(2001)", [], [], ORANGE, "circle-open-dot")
pts(4, 0, "Oberstedt(2005)", pa231_ober05_e, pa231_ober05_y, ORANGE, "circle", ey=pa231_ober05_dy, size=9)
pts(4, 1, "Petit(2004)", pa231_petit_e, pa231_petit_y, ORANGE, "triangle-up-open", size=9)
pts(4, 1, "Fursov(1985)", pa231_fursov_e, pa231_fursov_y, GREEN, "triangle-up", size=9, band=11)
pts(4, 1, "Plattard(1981)", [], [], GREEN, "triangle-down-open")
pts(4, 1, "Gryntakis(1976)", [], [], BLUE, "triangle-down")
pts(4, 1, "Iyer(1976)", pa231_iyer_e, pa231_iyer_y, BLUE, "diamond-open-dot", size=9)
pts(4, 1, "Kobayashi(1975)", pa231_koba75_e, pa231_koba75_y, BLUE, "diamond", ey=pa231_koba75_dy, size=9)
pts(4, 1, "Muir(1971)", pa231_muir_e, pa231_muir_y, BLUE, "pentagon-open", ey=pa231_muir_dy, size=9)
pts(4, 1, "Wagemans(1977)", [], [], BLUE, "pentagon")
pts(4, 1, "Wagemans(1978)", pa231_wag78_e, pa231_wag78_y, BLUE, "circle-open", ey=pa231_wag78_dy, size=9)
pts(4, 1, "Birgul(1969)", pa231_birgul_e, pa231_birgul_y, NAVY, "circle-open-dot", size=9)
pts(4, 1, "Dubrovina(1964)", pa231_dubr_e, pa231_dubr_y, NAVY, "circle-open", size=9)
pts(4, 1, "Leonard(1961)", [], [], NAVY, "circle")
pts(4, 1, "Williams(1944)", pa231_will_e, pa231_will_y, BLACK, "circle-open-dot", size=9)

# panel 5
line(5, 0, "This work", np236_this_e, np236_this_y, C_THIS, 2)
line(5, 0, "JEFF-3.3", np236_eval_e, np236_eval_y, C_JEFF)
line(5, 0, "JENDL-4.0", np236_eval_e, np236_eval_y, C_J4)
line(5, 0, "ENDF/B-VIII", np236_eval_e, np236_eval_y, C_ENDF)
line(5, 0, "JENDL-AD", np236_eval_e, np236_eval_y, C_JAD)
line(5, 0, "TENDL-2019", np236_tendl_e, np236_tendl_y, C_TENDL)
pts(5, 0, "Pal(2015)", np236_pal_e, np236_pal_y, CRIMSON, "cross-thin-open", size=9)
pts(5, 0, "Mughabghab(2006)", [], [], RED, "x-thin-open", size=9)
pts(5, 0, "Danon(1996)", [], [], ORANGE, "asterisk-open", size=9)
pts(5, 0, "Danon(1996)", [], [], ORANGE, "square-open-dot")
pts(5, 0, "Belyaev(1986)", [], [], CYAN, "square")
pts(5, 0, "Valskiy(1987)", [], [], CYAN, "circle-open-dot")
pts(5, 0, "Valskiy(1987)", [], [], CYAN, "circle")
pts(5, 0, "Britt(1979)", np236_britt_e, np236_britt_y, BLUE, "triangle-up-open", size=11, lw=1.5)
pts(5, 0, "Jaffey(1961)", np236_britt_e, np236_britt_y, NAVY, "triangle-up", size=6)

# panel 6
line(6, 0, "This work", np237_this_e, np237_this_y, C_THIS, 2)
line(6, 0, "JEFF-3.3", np237_eval_e, np237_eval_y, C_JEFF)
line(6, 0, "JENDL-4.0", np237_eval_e, np237_eval_y, C_J4)
line(6, 0, "ENDF/B-VIII", np237_eval_e, np237_eval_y, C_ENDF)
line(6, 0, "IRDFF-2.0", np237_eval_e, np237_eval_y, C_IRDFF)
line(6, 0, "JENDL-AD", np237_eval_e, np237_eval_y, C_JAD)
line(6, 0, "TENDL-2019", np237_eval_e, np237_eval_y, C_TENDL)
pts(6, 0, "Diakaki(2016)", np237_diak16a_e, np237_diak16a_y, CRIMSON, "cross-thin-open", ey=np237_diak16a_dy, size=9)
pts(6, 0, "Diakaki(2016)", np237_diak16b_e, np237_diak16b_y, CRIMSON, "x-thin-open", size=9)
pts(6, 0, "Diakaki(2013)", np237_diak13_e, np237_diak13_y, CRIMSON, "asterisk-open", size=9)
pts(6, 0, "Basunia(2008)", [], [], RED, "square-open-dot")
pts(6, 0, "Basunia(2009)", [], [], RED, "square")
pts(6, 0, "Mughabghab(2006)", [], [], RED, "circle-open-dot")
pts(6, 0, "Paradela(2010)", np237_parc_e, np237_parc_y, RED, "circle", size=8, band=7)
pts(6, 1, "Paradela(2010)", np237_parto_e, np237_parto_y, RED, "triangle-up-open", ey=np237_parto_dy, ex=np237_parto_dx, size=9)
pts(6, 1, "Paradela(2010)", np237_partf_e, np237_partf_y, RED, "triangle-up", ex=np237_partf_dx)
pts(6, 1, "Shcherbakov(2002)", np237_shch_e, np237_shch_y, ORANGE, "triangle-down-open", size=9)
pts(6, 1, "Carlson(1994)", np237_carl_e, np237_carl_y, MAGENTA, "triangle-down")
pts(6, 1, "Garlea(1992)", np237_garlea_e, np237_garlea_y, MAGENTA, "diamond-open-dot", size=9)
pts(6, 1, "Goverdovskii(1995)", [], [], MAGENTA, "diamond")
pts(6, 1, "Merla(1991)", np237_merla_e, np237_merla_y, MAGENTA, "pentagon-open")
pts(6, 1, "Merla(1991)", [], [], MAGENTA, "pentagon")
pts(6, 1, "Gul(1986)", [], [], CYAN, "circle-open", size=9)
pts(6, 1, "Kozharin(1986)", [], [], CYAN, "circle-open-dot", size=9)
pts(6, 1, "Lisowski(1988)", np237_lis_e, np237_lis_y, CYAN, "circle-open-dot", ey=np237_lis_dy, size=10, lw=2)
pts(6, 1, "Manabe(1988)", [], [], CYAN, "circle")
pts(6, 1, "Meadows(1988)", np237_mead88_e, np237_mead88_y, CYAN, "circle-open", size=10, lw=2)

# layout tables (pixel boxes of the six plot areas)
BOX = {1: (88, 741, 57, 448), 2: (863, 1516, 57, 448), 3: (78, 741, 597, 988),
       4: (863, 1516, 597, 988), 5: (88, 741, 1137, 1528), 6: (863, 1516, 1137, 1528)}
YAX = {1: (0, 1000, 0, 100), 2: (0, 1000, 0, 100), 3: (0, 500, 0, 50),
       4: (0, 2000, 0, 200), 5: (1500, 3000, 1600, 200), 6: (0, 2000, 0, 200)}
TITLE_ISO = {1: "228", 2: "230", 3: "232", 4: "231", 5: "236", 6: "237"}
TITLE_REAC = {1: "Th(n,f)", 2: "Th(n,f)", 3: "Th(n,f)", 4: "Pa(n,f)", 5: "Np(n,f)", 6: "Np(n,f)"}
# legend columns: (text right edge, sample x0, sample x1)
LEGCOL = {1: [(662, 674, 721)], 2: [(1437, 1449, 1496)],
          3: [(399, 411, 458), (658, 675, 721)],
          4: [(1196, 1207, 1254), (1433, 1449, 1496)],
          5: [(662, 674, 721)], 6: [(1175, 1187, 1234), (1433, 1450, 1496)]}

fig = make_subplots(rows=3, cols=2)

for s in SERIES:
    p = s["panel"]
    r, c = (p - 1) // 2 + 1, (p - 1) % 2 + 1
    if s["kind"] == "line":
        tr = go.Scatter(x=s["x"], y=s["y"], mode="lines", line=dict(color=s["color"], width=s["width"]),
                        showlegend=False, hoverinfo="skip")
    else:
        if len(s["x"]) == 0:
            continue
        kw = dict(x=s["x"], y=s["y"], showlegend=False, hoverinfo="skip", cliponaxis=False,
                  marker=dict(symbol=s["symbol"], size=s["size"], color=s["color"],
                              line=dict(color=s["color"], width=s["lw"])))
        if s["band"]:
            kw["mode"] = "lines+markers"
            kw["line"] = dict(color=s["color"], width=s["band"])
        else:
            kw["mode"] = "markers"
        if s["ey"] is not None:
            kw["error_y"] = dict(type="data", array=s["ey"], color=s["color"], thickness=1, width=3)
        if s["ex"] is not None:
            kw["error_x"] = dict(type="data", array=s["ex"], color=s["color"], thickness=1, width=3)
        tr = go.Scatter(**kw)
    fig.add_trace(tr, row=r, col=c)

axfont = dict(family=FONT, size=18, color="black")
for p, (x0, x1, y0, y1) in BOX.items():
    xn = "xaxis" if p == 1 else "xaxis%d" % p
    yn = "yaxis" if p == 1 else "yaxis%d" % p
    lo, hi, t0, dt = YAX[p]
    fig.layout[xn].update(domain=[x0 / W, x1 / W], range=[0, 5], tick0=0, dtick=1, automargin=False,
                          ticks="inside", ticklen=7, tickcolor="black", showline=True, mirror="ticks",
                          linecolor="black", linewidth=1, showgrid=False, zeroline=False,
                          tickfont=axfont, ticklabelstandoff=2)
    fig.layout[yn].update(domain=[1 - y1 / H, 1 - y0 / H], range=[lo, hi], tick0=t0, dtick=dt, automargin=False,
                          ticks="inside", ticklen=7, tickcolor="black", showline=True, mirror="ticks",
                          linecolor="black", linewidth=1, showgrid=False, zeroline=False,
                          tickfont=axfont, ticklabelstandoff=6)

# pixel-space overlay for titles and keys
fig.update_layout(
    xaxis7=dict(domain=[0, 1], range=[0, W], visible=False, anchor="y7", fixedrange=True, automargin=False),
    yaxis7=dict(domain=[0, 1], range=[H, 0], visible=False, anchor="x7", fixedrange=True, automargin=False),
)

ann = []
shapes = []
for p, (x0, x1, y0, y1) in BOX.items():
    cx = (x0 + x1) / 2
    left = cx - 49
    ann.append(dict(x=left, y=y0 - 41, xref="x7", yref="y7", text=TITLE_ISO[p], showarrow=False,
                    xanchor="left", yanchor="middle", font=dict(family=FONT, size=16, color="black")))
    ann.append(dict(x=left + 23, y=y0 - 33, xref="x7", yref="y7", text=TITLE_REAC[p], showarrow=False,
                    xanchor="left", yanchor="middle", font=dict(family=FONT, size=26, color="black")))
    ann.append(dict(x=cx, y=y1 + 42, xref="x7", yref="y7", text="Incident Neutron Energy [MeV]",
                    showarrow=False, xanchor="center", yanchor="middle",
                    font=dict(family=FONT, size=19, color="black")))
    ytx = 20 if p % 2 == 1 else 796
    ann.append(dict(x=ytx, y=(y0 + y1) / 2, xref="x7", yref="y7", text="Cross section [mb]",
                    showarrow=False, textangle=-90, xanchor="center", yanchor="middle",
                    font=dict(family=FONT, size=19, color="black")))

rowcount = {}
for s in SERIES:
    p, col = s["panel"], s["col"]
    k = (p, col)
    i = rowcount.get(k, 0)
    rowcount[k] = i + 1
    tx, lx0, lx1 = LEGCOL[p][col]
    ry = BOX[p][2] + 15 + i * 17.2
    off = 0 if s["kind"] == "line" else 3
    ann.append(dict(x=tx - off, y=ry, xref="x7", yref="y7", text=s["label"], showarrow=False,
                    xanchor="right", yanchor="middle", font=dict(family=FONT, size=17, color="black")))
    if s["kind"] == "line":
        shapes.append(dict(type="line", xref="x7", yref="y7", x0=lx0, x1=lx1, y0=ry, y1=ry,
                           line=dict(color=s["color"], width=s["width"])))
    else:
        fig.add_trace(go.Scatter(x=[(lx0 + lx1) / 2], y=[ry], mode="markers", xaxis="x7", yaxis="y7",
                                 showlegend=False, hoverinfo="skip",
                                 marker=dict(symbol=s["symbol"], size=min(s["size"], 9), color=s["color"],
                                             line=dict(color=s["color"], width=s["lw"]))))

fig.update_layout(width=W, height=H, margin=dict(l=0, r=0, t=0, b=0, pad=0), autosize=False,
                  paper_bgcolor="white", plot_bgcolor="rgba(0,0,0,0)", showlegend=False,
                  annotations=ann, shapes=shapes, font=dict(family=FONT, color="black"))

fig.write_html("out.html")
